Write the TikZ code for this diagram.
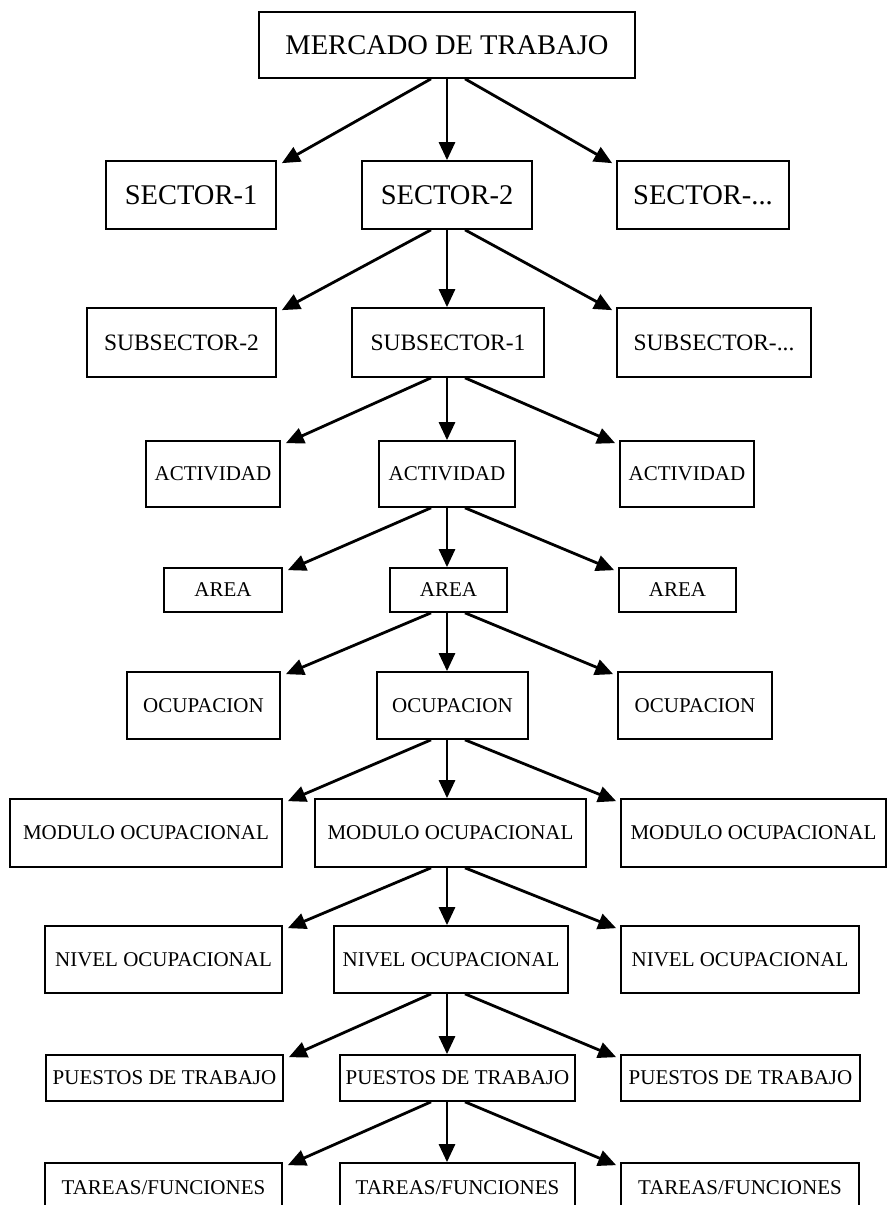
\documentclass[tikz,border=0pt]{standalone}
\usepackage{fontspec}
\setmainfont{Liberation Serif}
\usetikzlibrary{arrows.meta,calc}
\begin{document}
\begin{tikzpicture}[x=1pt,y=-1pt,
  box/.style={draw,line width=1.7pt,inner sep=0pt,rectangle,align=center},
  bigtxt/.style={box,font=\fontsize{28.5}{30}\selectfont},
  midtxt/.style={box,font=\fontsize{23.5}{25}\selectfont},
  smalltxt/.style={box,font=\fontsize{21}{23}\selectfont},
  arr/.style={line width=2.8pt,-{Triangle[length=18pt,width=16pt]}}]
\useasboundingbox (0,0) rectangle (888,1205);
\clip (0,0) rectangle (888,1205);
\coordinate (xl) at (431,0);
\coordinate (xc) at (447,0);
\coordinate (xr) at (465,0);
% row 1
\node[bigtxt,minimum width=376pt,minimum height=66pt] (m) at (447,45) {MERCADO DE TRABAJO};
% row 2
\node[bigtxt,minimum width=170pt,minimum height=68pt] (s1) at (191,195) {SECTOR-1};
\node[bigtxt,minimum width=170pt,minimum height=68pt] (s2) at (447,195) {SECTOR-2};
\node[bigtxt,minimum width=172pt,minimum height=68pt] (s3) at (703,195) {SECTOR-...};
% row 3
\node[midtxt,minimum width=189pt,minimum height=69pt] (ss2) at (181.5,342.5) {SUBSECTOR-2};
\node[midtxt,minimum width=192pt,minimum height=69pt] (ss1) at (448,342.5) {SUBSECTOR-1};
\node[midtxt,minimum width=194pt,minimum height=69pt] (ss3) at (714,342.5) {SUBSECTOR-...};
% row 4
\node[smalltxt,minimum width=134pt,minimum height=66pt] (a1) at (213,474) {ACTIVIDAD};
\node[smalltxt,minimum width=136pt,minimum height=66pt] (a2) at (447,474) {ACTIVIDAD};
\node[smalltxt,minimum width=134pt,minimum height=66pt] (a3) at (687,474) {ACTIVIDAD};
% row 5
\node[smalltxt,minimum width=118pt,minimum height=44pt] (r1) at (223,590) {AREA};
\node[smalltxt,minimum width=117pt,minimum height=44pt] (r2) at (448.5,590) {AREA};
\node[smalltxt,minimum width=117pt,minimum height=44pt] (r3) at (677.5,590) {AREA};
% row 6
\node[smalltxt,minimum width=153pt,minimum height=67pt] (o1) at (203.5,705.5) {OCUPACION};
\node[smalltxt,minimum width=151pt,minimum height=67pt] (o2) at (452.5,705.5) {OCUPACION};
\node[smalltxt,minimum width=154pt,minimum height=67pt] (o3) at (695,705.5) {OCUPACION};
% row 7
\node[smalltxt,minimum width=272pt,minimum height=68pt] (mo1) at (146,833) {MODULO OCUPACIONAL};
\node[smalltxt,minimum width=271pt,minimum height=68pt] (mo2) at (450.5,833) {MODULO OCUPACIONAL};
\node[smalltxt,minimum width=265pt,minimum height=68pt] (mo3) at (753.5,833) {MODULO OCUPACIONAL};
% row 8
\node[smalltxt,minimum width=237pt,minimum height=67pt] (n1) at (163.5,959.5) {NIVEL OCUPACIONAL};
\node[smalltxt,minimum width=234pt,minimum height=67pt] (n2) at (451,959.5) {NIVEL OCUPACIONAL};
\node[smalltxt,minimum width=238pt,minimum height=67pt] (n3) at (740,959.5) {NIVEL OCUPACIONAL};
% row 9
\node[smalltxt,minimum width=237pt,minimum height=46pt] (p1) at (164.5,1078) {PUESTOS DE TRABAJO};
\node[smalltxt,minimum width=235pt,minimum height=46pt] (p2) at (457.5,1078) {PUESTOS DE TRABAJO};
\node[smalltxt,minimum width=239pt,minimum height=46pt] (p3) at (740.5,1078) {PUESTOS DE TRABAJO};
% row 10
\node[smalltxt,minimum width=237pt,minimum height=50pt] (t1) at (163.5,1188) {TAREAS/FUNCIONES};
\node[smalltxt,minimum width=235pt,minimum height=50pt] (t2) at (457.5,1188) {TAREAS/FUNCIONES};
\node[smalltxt,minimum width=238pt,minimum height=50pt] (t3) at (740,1188) {TAREAS/FUNCIONES};
% arrows
\foreach \p/\l/\c/\r in {m/s1/s2/s3, s2/ss2/ss1/ss3, ss1/a1/a2/a3, a2/r1/r2/r3, r2/o1/o2/o3, o2/mo1/mo2/mo3, mo2/n1/n2/n3, n2/p1/p2/p3, p2/t1/t2/t3}{
  \draw[arr] (\p.south -| xl) -- ($(\l.north east)+(5,3)$);
  \draw[arr] (\p.south -| xc) -- (\c.north -| xc);
  \draw[arr] (\p.south -| xr) -- ($(\r.north west)+(-4,3)$);
}
\end{tikzpicture}
\end{document}
